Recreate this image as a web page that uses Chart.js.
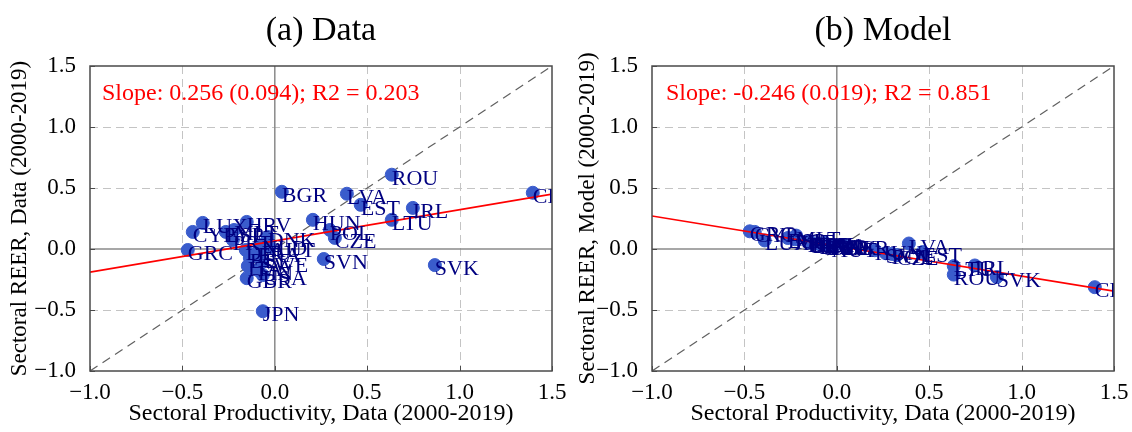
<!DOCTYPE html>
<html>
<head>
<meta charset="utf-8">
<script src="https://cdn.jsdelivr.net/npm/chart.js@4.4.1/dist/chart.umd.min.js"></script>
<style>
    html, body { margin: 0; padding: 0; background: #fff; width: 1132px; height: 432px; overflow: hidden; }
    canvas { position: absolute; top: 0; }
    #dataChart { left: 0; }
    #modelChart { left: 566px; }
</style>
</head>
<body>
<canvas id="dataChart" width="566" height="432"></canvas>
<canvas id="modelChart" width="566" height="432"></canvas>
<script>
// country codes, productivity (x, same in both panels), REER data and model (y)
const countries = ['CHE', 'ROU', 'LVA', 'EST', 'IRL', 'LTU', 'SVK', 'BGR', 'HUN', 'POL', 'CZE', 'SVN', 'JPN',
    'LUX', 'CYP', 'GRC', 'MLT', 'HRV', 'ESP', 'PRT', 'DNK', 'NLD', 'DEU', 'BEL', 'FRA', 'AUT', 'ITA', 'FIN',
    'GBR', 'USA', 'SWE'];
const productivity = [1.396, 0.633, 0.390, 0.465, 0.747, 0.633, 0.866, 0.038, 0.206, 0.298, 0.325, 0.265, -0.065,
    -0.390, -0.444, -0.471, -0.220, -0.152, -0.265, -0.227, -0.038, -0.070, -0.157, -0.135, -0.092, -0.027, -0.146, -0.092,
    -0.152, -0.065, -0.070];
const reerData = [0.461, 0.609, 0.453, 0.362, 0.337, 0.239, -0.132, 0.469, 0.239, 0.156, 0.091, -0.082, -0.510,
    0.214, 0.140, -0.008, 0.156, 0.222, 0.140, 0.074, 0.099, 0.033, -0.008, -0.074, -0.025, 0.016, -0.140, -0.173,
    -0.239, -0.214, -0.107];
const reerModel = [-0.313, -0.210, 0.045, -0.025, -0.135, -0.140, -0.230, 0.030, -0.010, -0.040, -0.050, -0.035, 0.050,
    0.070, 0.140, 0.145, 0.110, 0.060, 0.090, 0.080, 0.030, 0.040, 0.060, 0.050, 0.045, 0.020, 0.055, 0.040,
    0.060, 0.035, 0.035];

// fitted lines read at x = -1 and x = 1.5
const fitData = [{ x: -1, y: -0.19 }, { x: 1.5, y: 0.45 }];
const fitModel = [{ x: -1, y: 0.27 }, { x: 1.5, y: -0.345 }];
const diagonal = [{ x: -1, y: -1 }, { x: 1.5, y: 1.5 }];

const axisMin = -1.0;
const axisMax = 1.5;
const tickStep = 0.5;

const SERIF = "'Liberation Serif', 'DejaVu Serif', serif";

const fmtTick = v => (v < 0 ? '\u2212' : '') + Math.abs(v).toFixed(1);

const panelDecor = {
    id: 'panelDecor',
    beforeDatasetsDraw(chart, args, opts) {
        const { ctx, chartArea: a, scales: { x, y } } = chart;
        ctx.save();
        // dashed grid
        ctx.setLineDash([8, 5]);
        ctx.strokeStyle = '#c4c4c4';
        ctx.lineWidth = 1;
        x.ticks.forEach(t => {
            if (t.value === 0 || t.value === axisMin || t.value === axisMax) return;
            const px = Math.round(x.getPixelForValue(t.value)) + 0.5;
            ctx.beginPath(); ctx.moveTo(px, a.top); ctx.lineTo(px, a.bottom); ctx.stroke();
        });
        y.ticks.forEach(t => {
            if (t.value === 0 || t.value === axisMin || t.value === axisMax) return;
            const py = Math.round(y.getPixelForValue(t.value)) + 0.5;
            ctx.beginPath(); ctx.moveTo(a.left, py); ctx.lineTo(a.right, py); ctx.stroke();
        });
        // zero lines
        ctx.setLineDash([]);
        ctx.strokeStyle = '#8a8a8a';
        ctx.lineWidth = 1.5;
        const x0 = x.getPixelForValue(0), y0 = y.getPixelForValue(0);
        ctx.beginPath(); ctx.moveTo(x0, a.top); ctx.lineTo(x0, a.bottom); ctx.stroke();
        ctx.beginPath(); ctx.moveTo(a.left, y0); ctx.lineTo(a.right, y0); ctx.stroke();
        ctx.restore();
    },
    afterDatasetsDraw(chart, args, opts) {
        const { ctx, chartArea: a, scales: { x, y } } = chart;
        const meta = chart.getDatasetMeta(1);
        ctx.save();
        // country labels, clipped to the plot
        ctx.beginPath();
        ctx.rect(a.left, a.top, a.width, a.height);
        ctx.clip();
        ctx.font = '22px ' + SERIF;
        ctx.fillStyle = '#000080';
        ctx.textAlign = 'left';
        ctx.textBaseline = 'alphabetic';
        meta.data.forEach((el, i) => {
            ctx.fillText(countries[i], el.x, el.y + 10);
        });
        ctx.restore();

        ctx.save();
        // frame
        ctx.strokeStyle = '#4a4a4a';
        ctx.lineWidth = 1.5;
        ctx.strokeRect(a.left, a.top, a.width, a.height);
        // inward tick marks
        ctx.lineWidth = 1;
        x.ticks.forEach(t => {
            const px = Math.round(x.getPixelForValue(t.value)) + 0.5;
            ctx.beginPath(); ctx.moveTo(px, a.bottom); ctx.lineTo(px, a.bottom - 5); ctx.stroke();
        });
        y.ticks.forEach(t => {
            const py = Math.round(y.getPixelForValue(t.value)) + 0.5;
            ctx.beginPath(); ctx.moveTo(a.left, py); ctx.lineTo(a.left + 5, py); ctx.stroke();
        });
        // slope annotation
        ctx.font = '24px ' + SERIF;
        ctx.fillStyle = '#ff0000';
        ctx.textBaseline = 'middle';
        ctx.textAlign = 'left';
        ctx.fillText(opts.note, a.left + opts.noteDx, a.top + 28);
        // panel title
        ctx.font = '34px ' + SERIF;
        ctx.fillStyle = '#000';
        ctx.textAlign = 'center';
        ctx.fillText(opts.title, (a.left + a.right) / 2, 31);
        ctx.restore();
    }
};

function makePanel(canvasId, yValues, fitLine, cfg) {
    const points = productivity.map((p, i) => ({ x: p, y: yValues[i] }));
    return new Chart(document.getElementById(canvasId), {
        type: 'scatter',
        data: {
            datasets: [
                {
                    type: 'line',
                    data: diagonal,
                    borderColor: '#606060',
                    borderWidth: 1.2,
                    borderDash: [9, 6],
                    pointRadius: 0,
                    order: 3
                },
                {
                    data: points,
                    backgroundColor: '#3a5ccc',
                    borderColor: '#3a5ccc',
                    pointRadius: 6.5,
                    order: 2
                },
                {
                    type: 'line',
                    data: fitLine,
                    borderColor: '#ff0000',
                    borderWidth: 1.6,
                    pointRadius: 0,
                    order: 1
                }
            ]
        },
        options: {
            responsive: false,
            animation: false,
            devicePixelRatio: 1,
            layout: { padding: { top: 66, right: cfg.padRight, bottom: 0, left: 0 } },
            plugins: {
                legend: { display: false },
                tooltip: { enabled: false },
                panelDecor: { title: cfg.title, note: cfg.note, noteDx: cfg.noteDx }
            },
            scales: {
                x: {
                    type: 'linear',
                    min: axisMin,
                    max: axisMax,
                    grid: { display: false },
                    border: { display: false },
                    ticks: {
                        stepSize: tickStep,
                        callback: fmtTick,
                        color: '#000',
                        font: { family: SERIF, size: 23 },
                        padding: 0,
                        maxRotation: 0
                    },
                    title: {
                        display: true,
                        text: 'Sectoral Productivity, Data (2000-2019)',
                        color: '#000',
                        font: { family: SERIF, size: 24 },
                        padding: { top: 0, bottom: 4 }
                    },
                    afterFit(s) {
                        s.height = 61;
                        s.paddingLeft = 0;
                        s.paddingRight = 0;
                    }
                },
                y: {
                    type: 'linear',
                    min: axisMin,
                    max: axisMax,
                    grid: { display: false },
                    border: { display: false },
                    ticks: {
                        stepSize: tickStep,
                        callback: fmtTick,
                        color: '#000',
                        font: { family: SERIF, size: 23 },
                        padding: 6
                    },
                    title: {
                        display: true,
                        text: cfg.yTitle,
                        color: '#000',
                        font: { family: SERIF, size: 23 },
                        padding: { top: cfg.yTitlePad, bottom: 0 }
                    },
                    afterFit(s) {
                        s.width = cfg.yWidth;
                        s.paddingTop = 0;
                        s.paddingBottom = 0;
                    }
                }
            }
        },
        plugins: [panelDecor]
    });
}

makePanel('dataChart', reerData, fitData, {
    title: '(a) Data',
    note: 'Slope: 0.256 (0.094); R2 = 0.203',
    noteDx: 12,
    yTitle: 'Sectoral REER, Data (2000-2019)',
    yTitlePad: 6,
    yWidth: 90,
    padRight: 14
});

makePanel('modelChart', reerModel, fitModel, {
    title: '(b) Model',
    note: 'Slope: -0.246 (0.019); R2 = 0.851',
    noteDx: 14,
    yTitle: 'Sectoral REER, Model (2000-2019)',
    yTitlePad: 8,
    yWidth: 86,
    padRight: 18
});
</script>
</body>
</html>
